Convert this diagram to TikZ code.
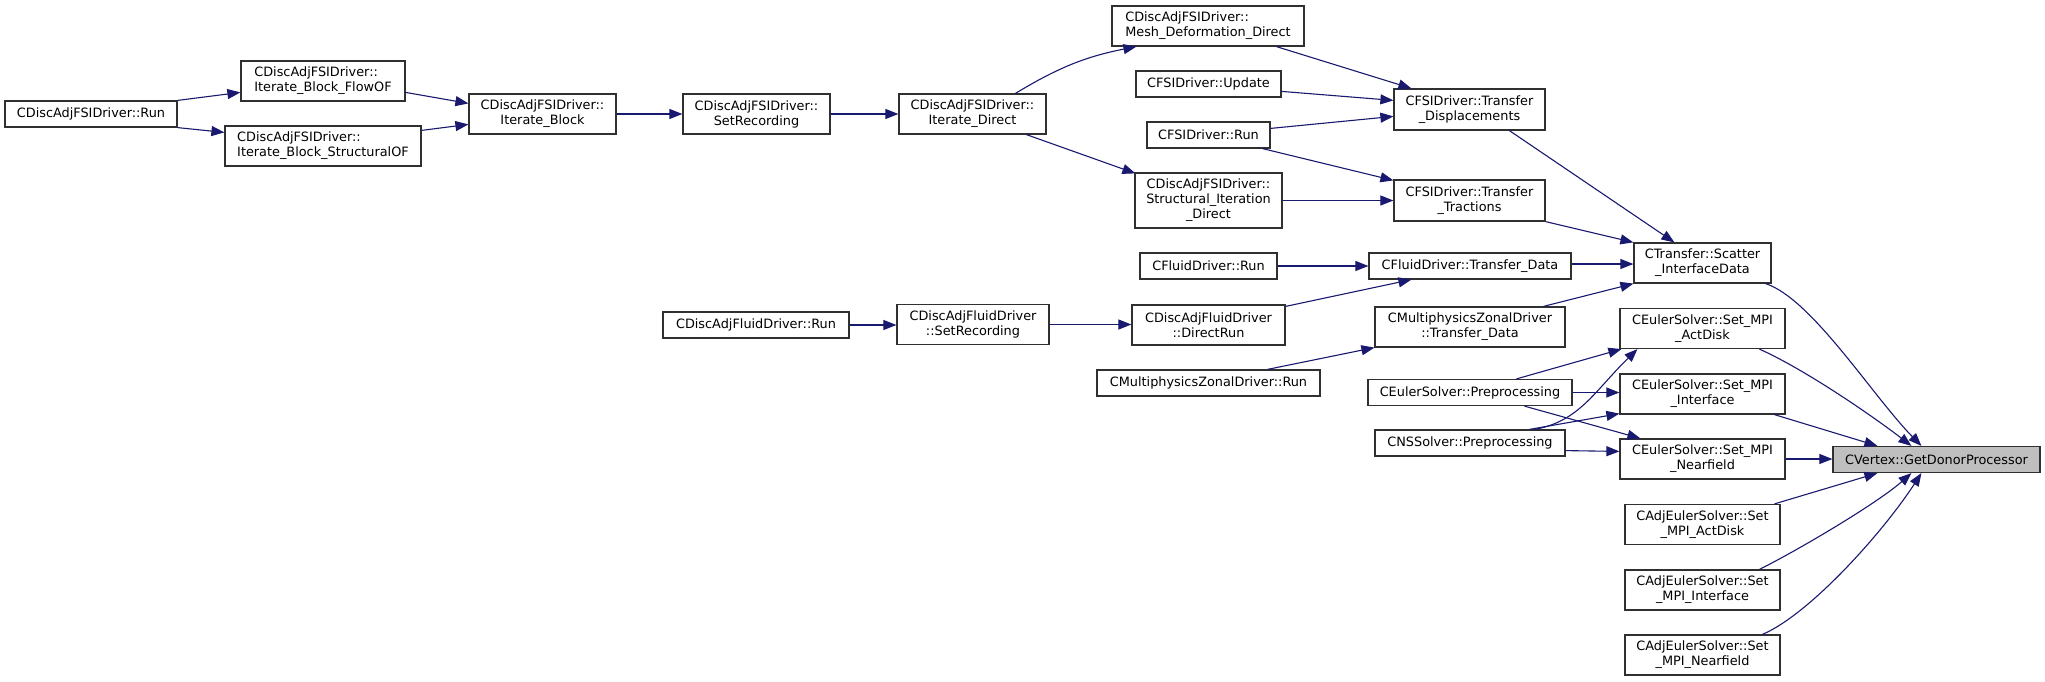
\documentclass[tikz,border=0pt]{standalone}
\usepackage{fontspec}
\setmainfont{DejaVu Sans}
\usetikzlibrary{arrows.meta,calc}
\definecolor{edgec}{HTML}{191970}
\definecolor{boxc}{HTML}{303030}
\definecolor{hilite}{HTML}{BFBFBF}
\begin{document}
\begin{tikzpicture}[x=1pt,y=-1pt,
  box/.style={draw=boxc, line width=1.2pt, fill=white, inner sep=0pt, align=center, font=\fontsize{12.85}{15}\selectfont},
  lbox/.style={box, align=left},
  edge/.style={draw=edgec, line width=1.1pt, -{Triangle[length=13pt,width=10pt]}},
]
\fill[white] (0,0) rectangle (2045,681);
\useasboundingbox (0,0) rectangle (2045,681);

% column 1
\node[box, minimum width=172pt, minimum height=26pt] (run) at (91,114) {CDiscAdjFSIDriver::Run};
% column 2
\node[lbox, minimum width=164pt, minimum height=40pt] (flowof) at (323,81) {CDiscAdjFSIDriver::\\Iterate\_Block\_FlowOF};
\node[lbox, minimum width=196pt, minimum height=40pt] (structof) at (323,146) {CDiscAdjFSIDriver::\\Iterate\_Block\_StructuralOF};
% column 3
\node[box, minimum width=147pt, minimum height=40pt] (iblock) at (542.5,114) {CDiscAdjFSIDriver::\\Iterate\_Block};
% column 4
\node[box, minimum width=147pt, minimum height=40pt] (setrec) at (756.5,114) {CDiscAdjFSIDriver::\\SetRecording};
\node[box, minimum width=186pt, minimum height=26pt] (dafrun) at (756,325) {CDiscAdjFluidDriver::Run};
% column 5
\node[box, minimum width=147pt, minimum height=40pt] (idirect) at (972.5,114) {CDiscAdjFSIDriver::\\Iterate\_Direct};
\node[box, minimum width=152pt, minimum height=40pt] (dafsetrec) at (973,324.5) {CDiscAdjFluidDriver\\::SetRecording};
% column 6
\node[lbox, minimum width=192pt, minimum height=40pt] (mesh) at (1208,26) {CDiscAdjFSIDriver::\\Mesh\_Deformation\_Direct};
\node[box, minimum width=145pt, minimum height=26pt] (update) at (1208.5,84) {CFSIDriver::Update};
\node[box, minimum width=123pt, minimum height=26pt] (fsirun) at (1208.5,135) {CFSIDriver::Run};
\node[box, minimum width=147pt, minimum height=55pt] (structit) at (1208.5,200.5) {CDiscAdjFSIDriver::\\Structural\_Iteration\\\_Direct};
\node[box, minimum width=137pt, minimum height=26pt] (cfdrun) at (1208.5,266) {CFluidDriver::Run};
\node[box, minimum width=153pt, minimum height=40pt] (dafdirect) at (1208.5,325) {CDiscAdjFluidDriver\\::DirectRun};
\node[box, minimum width=223pt, minimum height=26pt] (mzdrun) at (1208.5,383) {CMultiphysicsZonalDriver::Run};
% column 7
\node[box, minimum width=151pt, minimum height=41pt] (tdisp) at (1469.5,109.5) {CFSIDriver::Transfer\\\_Displacements};
\node[box, minimum width=151pt, minimum height=41pt] (ttrac) at (1469.5,200.5) {CFSIDriver::Transfer\\\_Tractions};
\node[box, minimum width=202pt, minimum height=26pt] (cfdtd) at (1470,266) {CFluidDriver::Transfer\_Data};
\node[box, minimum width=190pt, minimum height=40pt] (mzdtd) at (1470,327) {CMultiphysicsZonalDriver\\::Transfer\_Data};
\node[box, minimum width=204pt, minimum height=26pt] (eulerprep) at (1470,392.5) {CEulerSolver::Preprocessing};
\node[box, minimum width=190pt, minimum height=26pt] (nsprep) at (1470,443) {CNSSolver::Preprocessing};
% column 8
\node[box, minimum width=137pt, minimum height=40pt] (scatter) at (1702.5,263) {CTransfer::Scatter\\\_InterfaceData};
\node[box, minimum width=165pt, minimum height=40pt] (actdisk) at (1702.5,328.5) {CEulerSolver::Set\_MPI\\\_ActDisk};
\node[box, minimum width=165pt, minimum height=40pt] (interface) at (1702.5,394) {CEulerSolver::Set\_MPI\\\_Interface};
\node[box, minimum width=165pt, minimum height=40pt] (nearfield) at (1702.5,459) {CEulerSolver::Set\_MPI\\\_Nearfield};
\node[box, minimum width=155pt, minimum height=40pt] (adjact) at (1702.5,524.5) {CAdjEulerSolver::Set\\\_MPI\_ActDisk};
\node[box, minimum width=155pt, minimum height=40pt] (adjint) at (1702.5,590) {CAdjEulerSolver::Set\\\_MPI\_Interface};
\node[box, minimum width=155pt, minimum height=40pt] (adjnear) at (1702.5,655) {CAdjEulerSolver::Set\\\_MPI\_Nearfield};
% target
\node[box, fill=hilite, minimum width=207pt, minimum height=26pt] (vertex) at (1936.5,459.5) {CVertex::GetDonorProcessor};

% edges
\draw[edge] (run.north east) -- ($(flowof.north west)+(0,32)$);
\draw[edge] (run.south east) -- ($(structof.north west)+(0,7)$);
\draw[edge] ($(flowof.north east)+(0,32)$) -- ($(iblock.north west)+(0,10)$);
\draw[edge] ($(structof.north east)+(0,5)$) -- ($(iblock.north west)+(0,31)$);
\draw[edge] (iblock.east) -- (setrec.west);
\draw[edge] (setrec.east) -- (idirect.west);
\draw[edge] ($(idirect.north west)+(117,0)$) to[bend left=10] ($(mesh.south west)+(25,0)$);
\draw[edge] ($(idirect.south west)+(128,0)$) -- ($(structit.north west)+(1,1)$);
\draw[edge] ($(mesh.south west)+(165,0)$) -- ($(tdisp.north west)+(18,0)$);
\draw[edge] ($(update.north east)+(0,21)$) -- ($(tdisp.north west)+(0,12)$);
\draw[edge] ($(fsirun.north east)+(0,7)$) -- ($(tdisp.north west)+(0,28)$);
\draw[edge] ($(fsirun.south east)+(-8,0)$) -- ($(ttrac.north west)+(0,1)$);
\draw[edge] (structit.east) -- (structit.east -| ttrac.west);
\draw[edge] ($(tdisp.south west)+(116,0)$) -- ($(scatter.north west)+(41,0)$);
\draw[edge] (ttrac.south east) -- (scatter.north west);
\draw[edge] (cfdrun.east) -- (cfdtd.west);
\draw[edge] ($(cfdtd.east)+(0,-2)$) -- ($(cfdtd.east -| scatter.west)+(0,-2)$);
\draw[edge] (dafrun.east) -- (dafrun.east -| dafsetrec.west);
\draw[edge] (dafsetrec.east) -- (dafsetrec.east -| dafdirect.west);
\draw[edge] ($(dafdirect.north east)+(0,2)$) -- ($(cfdtd.south west)+(43,0)$);
\draw[edge] ($(mzdrun.north west)+(171,0)$) -- (mzdtd.south west);
\draw[edge] ($(mzdtd.north west)+(169,0)$) -- (scatter.south west);
\draw[edge] ($(eulerprep.north west)+(149,0)$) -- ($(actdisk.south west)+(2,0)$);
\draw[edge] (eulerprep.east) -- (eulerprep.east -| interface.west);
\draw[edge] ($(eulerprep.south west)+(157,0)$) -- ($(nearfield.north west)+(21,0)$);
\draw[edge] ($(nsprep.north west)+(160,0)$) .. controls ($(nsprep.north west)+(205,-8)$) and ($(actdisk.south west)+(-25,42)$) .. ($(actdisk.south west)+(18,0)$);
\draw[edge] ($(nsprep.north west)+(155,0)$) -- ($(interface.south west)+(0,-1)$);
\draw[edge] ($(nsprep.south east)+(0,-6)$) -- ($(nearfield.north west)+(0,13)$);
\draw[edge] ($(scatter.south east)+(-6,0)$) .. controls ($(scatter.south east)+(40,15)$) and ($(vertex.north west)+(40,-50)$) .. ($(vertex.north west)+(89,0)$);
\draw[edge] ($(actdisk.south west)+(140,0)$) .. controls ($(actdisk.south west)+(185,20)$) and ($(vertex.north west)+(40,-30)$) .. ($(vertex.north west)+(79,0)$);
\draw[edge] ($(interface.south west)+(155,0)$) -- ($(vertex.north west)+(45,0)$);
\draw[edge] (nearfield.east) -- (nearfield.east -| vertex.west);
\draw[edge] ($(adjact.north west)+(150,0)$) -- ($(vertex.south west)+(45,0)$);
\draw[edge] ($(adjint.north west)+(135,0)$) .. controls ($(adjint.north west)+(175,-20)$) and ($(vertex.south west)+(45,30)$) .. ($(vertex.south west)+(79,0)$);
\draw[edge] ($(adjnear.north west)+(138,0)$) .. controls ($(adjnear.north west)+(185,-20)$) and ($(vertex.south west)+(50,60)$) .. ($(vertex.south west)+(89,0)$);
\end{tikzpicture}
\end{document}
